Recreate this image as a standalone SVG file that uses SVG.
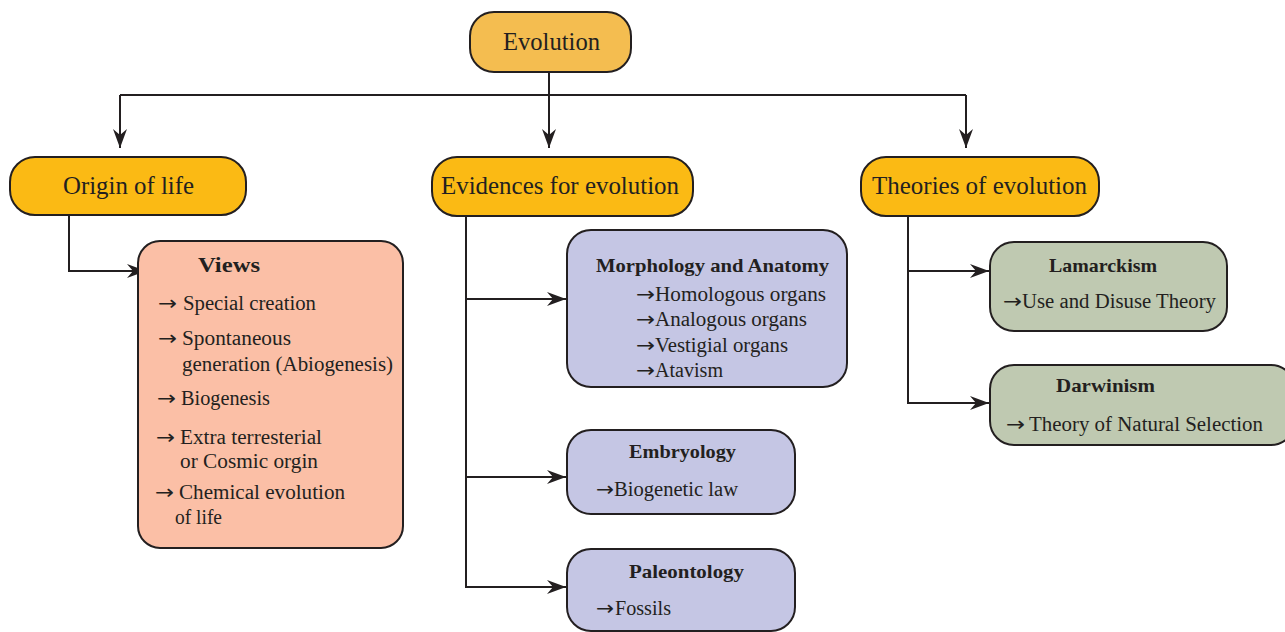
<svg xmlns="http://www.w3.org/2000/svg" width="1285" height="632" viewBox="0 0 1285 632">
<defs>
<marker id="ah" markerWidth="20" markerHeight="14" refX="19" refY="7" orient="auto" markerUnits="userSpaceOnUse">
<path d="M0,0 L19,7 L0,14 L6,7 z" fill="#231F20"/>
</marker>
<style>
.box{stroke:#231F20;stroke-width:2}
.top{fill:#F4BD50}
.l2{fill:#FBBA14}
.views{fill:#FBBFA6}
.pur{fill:#C5C6E4}
.grn{fill:#BFC9B1}
text{font-family:"Liberation Serif","DejaVu Serif",serif;fill:#231F20}
.h1{font-size:24.5px}
.hb{font-size:19.5px;font-weight:bold}
.it{font-size:20px}
.bl{font-family:"DejaVu Sans",sans-serif;font-size:20px}
.con{fill:none;stroke:#231F20;stroke-width:2}
</style>
</defs>
<rect width="1285" height="632" fill="#FFFFFF"/>
<g id="connectors">
<path class="con" d="M549,72 V95"/>
<path class="con" d="M120,95 H966"/>
<path class="con" d="M120,95 V148" marker-end="url(#ah)"/>
<path class="con" d="M549,95 V148" marker-end="url(#ah)"/>
<path class="con" d="M966,95 V148" marker-end="url(#ah)"/>
<path class="con" d="M69,215 V271 H146" marker-end="url(#ah)"/>
<path class="con" d="M466,216 V587 H566" marker-end="url(#ah)"/>
<path class="con" d="M466,299 H566" marker-end="url(#ah)"/>
<path class="con" d="M466,477 H566" marker-end="url(#ah)"/>
<path class="con" d="M908,216 V403 H989" marker-end="url(#ah)"/>
<path class="con" d="M908,271 H989" marker-end="url(#ah)"/>
</g>
<g id="evolution">
<rect class="box top" x="470" y="12" width="161" height="60" rx="24"/>
<text class="h1" x="503" y="50" textLength="97" lengthAdjust="spacingAndGlyphs">Evolution</text>
</g>
<g id="origin">
<rect class="box l2" x="10" y="157" width="236" height="58" rx="25"/>
<text class="h1" x="63" y="194" textLength="131" lengthAdjust="spacingAndGlyphs">Origin of life</text>
</g>
<g id="evidences">
<rect class="box l2" x="432" y="157" width="261" height="59" rx="25"/>
<text class="h1" x="441" y="194" textLength="238" lengthAdjust="spacingAndGlyphs">Evidences for evolution</text>
</g>
<g id="theories">
<rect class="box l2" x="861" y="157" width="238" height="59" rx="25"/>
<text class="h1" x="872" y="194" textLength="215" lengthAdjust="spacingAndGlyphs">Theories of evolution</text>
</g>
<g id="views">
<rect class="box views" x="138" y="241" width="265" height="307" rx="22"/>
<text class="hb" x="198" y="272" style="font-size:21.5px" textLength="62" lengthAdjust="spacingAndGlyphs">Views</text>
<text class="bl" x="158" y="310" textLength="19" lengthAdjust="spacingAndGlyphs">→</text><text class="it" x="183" y="310" textLength="133" lengthAdjust="spacingAndGlyphs">Special creation</text>
<text class="bl" x="158" y="345" textLength="19" lengthAdjust="spacingAndGlyphs">→</text><text class="it" x="182" y="345" textLength="109" lengthAdjust="spacingAndGlyphs">Spontaneous</text>
<text class="it" x="182" y="371" textLength="211" lengthAdjust="spacingAndGlyphs">generation (Abiogenesis)</text>
<text class="bl" x="157" y="405" textLength="19" lengthAdjust="spacingAndGlyphs">→</text><text class="it" x="181" y="405" textLength="89" lengthAdjust="spacingAndGlyphs">Biogenesis</text>
<text class="bl" x="156" y="444" textLength="19" lengthAdjust="spacingAndGlyphs">→</text><text class="it" x="180" y="444" textLength="142" lengthAdjust="spacingAndGlyphs">Extra terresterial</text>
<text class="it" x="180" y="468" textLength="138" lengthAdjust="spacingAndGlyphs">or Cosmic orgin</text>
<text class="bl" x="155" y="499" textLength="19" lengthAdjust="spacingAndGlyphs">→</text><text class="it" x="179" y="499" textLength="166" lengthAdjust="spacingAndGlyphs">Chemical evolution</text>
<text class="it" x="175" y="524" textLength="47" lengthAdjust="spacingAndGlyphs">of life</text>
</g>
<g id="morphology">
<rect class="box pur" x="567" y="230" width="280" height="157" rx="24"/>
<text class="hb" x="596" y="272" textLength="233" lengthAdjust="spacingAndGlyphs">Morphology and Anatomy</text>
<text class="bl" x="636" y="301" textLength="19" lengthAdjust="spacingAndGlyphs">→</text><text class="it" x="655" y="301" textLength="171" lengthAdjust="spacingAndGlyphs">Homologous organs</text>
<text class="bl" x="636" y="326" textLength="19" lengthAdjust="spacingAndGlyphs">→</text><text class="it" x="655" y="326" textLength="152" lengthAdjust="spacingAndGlyphs">Analogous organs</text>
<text class="bl" x="636" y="352" textLength="19" lengthAdjust="spacingAndGlyphs">→</text><text class="it" x="655" y="352" textLength="133" lengthAdjust="spacingAndGlyphs">Vestigial organs</text>
<text class="bl" x="636" y="377" textLength="19" lengthAdjust="spacingAndGlyphs">→</text><text class="it" x="655" y="377" textLength="68" lengthAdjust="spacingAndGlyphs">Atavism</text>
</g>
<g id="embryology">
<rect class="box pur" x="567" y="430" width="228" height="84" rx="24"/>
<text class="hb" x="629" y="458" textLength="107" lengthAdjust="spacingAndGlyphs">Embryology</text>
<text class="bl" x="596" y="496" textLength="18" lengthAdjust="spacingAndGlyphs">→</text><text class="it" x="614" y="496" textLength="124" lengthAdjust="spacingAndGlyphs">Biogenetic law</text>
</g>
<g id="paleontology">
<rect class="box pur" x="567" y="549" width="228" height="82" rx="24"/>
<text class="hb" x="629" y="578" textLength="115" lengthAdjust="spacingAndGlyphs">Paleontology</text>
<text class="bl" x="596" y="615" textLength="18" lengthAdjust="spacingAndGlyphs">→</text><text class="it" x="615" y="615" textLength="56" lengthAdjust="spacingAndGlyphs">Fossils</text>
</g>
<g id="lamarckism">
<rect class="box grn" x="990" y="242" width="237" height="89" rx="24"/>
<text class="hb" x="1049" y="272" textLength="108" lengthAdjust="spacingAndGlyphs">Lamarckism</text>
<text class="bl" x="1003" y="308" textLength="19" lengthAdjust="spacingAndGlyphs">→</text><text class="it" x="1022" y="308" textLength="194" lengthAdjust="spacingAndGlyphs">Use and Disuse Theory</text>
</g>
<g id="darwinism">
<rect class="box grn" x="990" y="365" width="305" height="80" rx="24"/>
<text class="hb" x="1056" y="392" textLength="99" lengthAdjust="spacingAndGlyphs">Darwinism</text>
<text class="bl" x="1006" y="431" textLength="19" lengthAdjust="spacingAndGlyphs">→</text><text class="it" x="1029" y="431" textLength="234" lengthAdjust="spacingAndGlyphs">Theory of Natural Selection</text>
</g>
</svg>
